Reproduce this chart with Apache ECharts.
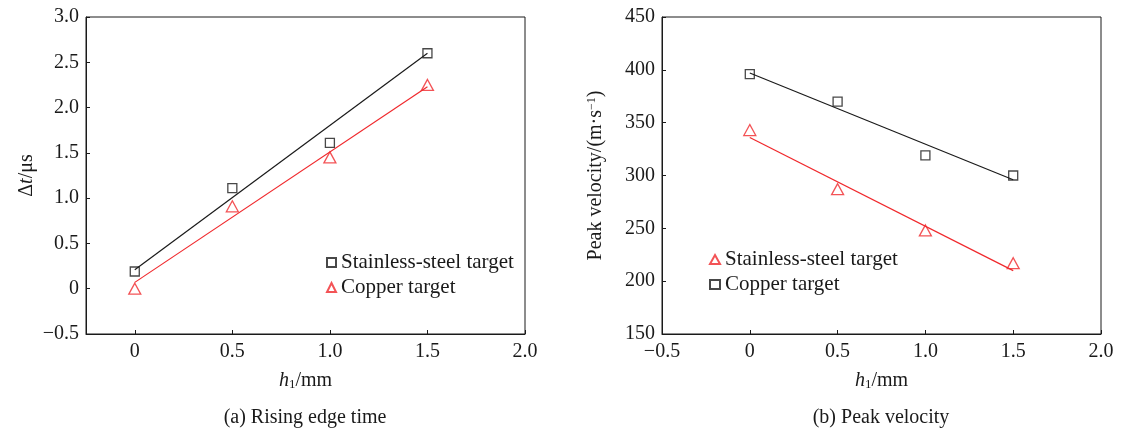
<!DOCTYPE html>
<html>
<head>
<meta charset="utf-8">
<title>Rising edge time / Peak velocity</title>
<script src="https://cdn.jsdelivr.net/npm/echarts@6/dist/echarts.min.js"></script>
<style>
    html, body { margin: 0; padding: 0; background: #fff; }
    #chart { width: 1122px; height: 430px; }
</style>
</head>
<body>
<div id="chart"></div>
<script>
// 数据 (从图上读出来的)
const xValues = [0, 0.5, 1.0, 1.5];
const xTicks = [0, 0.5, 1.0, 1.5, 2.0];

// (a) 上升沿时间
const riseSteel = [0.19, 1.11, 1.61, 2.60];
const riseCopper = [0.0, 0.91, 1.45, 2.25];
const riseSteelFit = [0.21, 2.60];
const riseCopperFit = [0.07, 2.23];

// (b) 峰值速度
const peakSteel = [343, 287, 248, 217];
const peakCopper = [396, 370, 319, 300];
const peakSteelFit = [336, 210];
const peakCopperFit = [397, 296];

const fitX = [0, 1.5];

const FONT = 'Liberation Serif';
const RED = '#f0282c';
const BLACK = '#1a1a1a';

function pairs(xs, ys) {
    return xs.map(function (x, i) { return [x, ys[i]]; });
}

function tickFmt(v) {
    if (Math.abs(v) < 1e-9) return '0';
    return v.toFixed(1).replace('-', '\u2212');
}

function intFmt(v) {
    return String(v);
}

// 图例名字: 右图的系列用别名, 显示时还原
const legendNames = {
    'steel-b': 'Stainless-steel target',
    'copper-b': 'Copper target'
};

function xAxisOf(gridIndex, min) {
    return {
        type: 'value',
        gridIndex: gridIndex,
        min: min,
        max: 2.0,
        name: '{i|h}{sub|1}/mm',
        nameLocation: 'middle',
        nameGap: 36,
        nameTextStyle: {
            color: BLACK,
            fontFamily: FONT,
            fontSize: 20,
            rich: {
                i: { fontFamily: FONT, fontSize: 20, fontStyle: 'italic', color: BLACK },
                sub: { fontFamily: FONT, fontSize: 13, color: BLACK, verticalAlign: 'bottom', padding: [8, 0, 0, 0] }
            }
        },
        axisLine: { show: true, onZero: false, lineStyle: { color: BLACK, width: 1 } },
        axisTick: { show: true, inside: true, length: 4, customValues: xTicks, lineStyle: { color: BLACK } },
        axisLabel: {
            customValues: xTicks.concat(min < 0 && min % 0.5 === 0 ? [min] : []),
            formatter: tickFmt,
            color: BLACK,
            fontFamily: FONT,
            fontSize: 20,
            margin: 8
        },
        splitLine: { show: false }
    };
}

let option = {
    animation: false,
    backgroundColor: '#fff',
    grid: [
        { left: 86, top: 17, width: 439, height: 317, show: true, borderColor: BLACK, borderWidth: 1 },
        { left: 662, top: 17, width: 439, height: 317, show: true, borderColor: BLACK, borderWidth: 1 }
    ],
    xAxis: [
        xAxisOf(0, -0.25),
        xAxisOf(1, -0.5)
    ],
    yAxis: [
        {
            type: 'value',
            gridIndex: 0,
            min: -0.5,
            max: 3.0,
            interval: 0.5,
            name: '{d|\u0394}{i|t}/\u03bcs',
            nameLocation: 'middle',
            nameGap: 49,
            nameTextStyle: {
                color: BLACK,
                fontFamily: FONT,
                fontSize: 20,
                rich: {
                    d: { fontFamily: FONT, fontSize: 20, color: BLACK },
                    i: { fontFamily: FONT, fontSize: 20, fontStyle: 'italic', color: BLACK }
                }
            },
            axisLine: { show: true, onZero: false, lineStyle: { color: BLACK, width: 1 } },
            axisTick: { show: true, inside: true, length: 4, lineStyle: { color: BLACK } },
            axisLabel: { formatter: tickFmt, color: BLACK, fontFamily: FONT, fontSize: 20, margin: 7 },
            splitLine: { show: false }
        },
        {
            type: 'value',
            gridIndex: 1,
            min: 150,
            max: 450,
            interval: 50,
            name: 'Peak velocity/(m\u00b7s{sup|\u22121})',
            nameLocation: 'middle',
            nameGap: 56,
            nameTextStyle: {
                color: BLACK,
                fontFamily: FONT,
                fontSize: 20,
                rich: {
                    sup: { fontFamily: FONT, fontSize: 12, color: BLACK, verticalAlign: 'top', padding: [0, 0, 8, 0] }
                }
            },
            axisLine: { show: true, onZero: false, lineStyle: { color: BLACK, width: 1 } },
            axisTick: { show: true, inside: true, length: 4, lineStyle: { color: BLACK } },
            axisLabel: { formatter: intFmt, color: BLACK, fontFamily: FONT, fontSize: 20, margin: 7 },
            splitLine: { show: false }
        }
    ],
    legend: [
        {
            orient: 'vertical',
            left: 326,
            top: 252,
            padding: 0,
            itemWidth: 9,
            itemHeight: 9,
            itemGap: 4,
            data: ['Stainless-steel target', 'Copper target'],
            textStyle: { color: BLACK, fontFamily: FONT, fontSize: 21 }
        },
        {
            orient: 'vertical',
            left: 709,
            top: 249,
            padding: 0,
            itemWidth: 10,
            itemHeight: 9,
            itemGap: 4,
            data: ['steel-b', 'copper-b'],
            formatter: function (name) { return legendNames[name]; },
            textStyle: { color: BLACK, fontFamily: FONT, fontSize: 21 }
        }
    ],
    graphic: [
        {
            type: 'text', x: 305, y: 418,
            style: { text: '(a) Rising edge time', align: 'center', verticalAlign: 'middle', fill: BLACK, font: '20px "Liberation Serif"' }
        },
        {
            type: 'text', x: 881, y: 418,
            style: { text: '(b) Peak velocity', align: 'center', verticalAlign: 'middle', fill: BLACK, font: '20px "Liberation Serif"' }
        }
    ],
    series: [
        // (a) 拟合线
        {
            type: 'line', xAxisIndex: 0, yAxisIndex: 0, silent: true, showSymbol: false,
            data: pairs(fitX, riseSteelFit), lineStyle: { color: BLACK, width: 1.2 }
        },
        {
            type: 'line', xAxisIndex: 0, yAxisIndex: 0, silent: true, showSymbol: false,
            data: pairs(fitX, riseCopperFit), lineStyle: { color: RED, width: 1.2 }
        },
        // (a) 散点
        {
            name: 'Stainless-steel target', type: 'scatter', xAxisIndex: 0, yAxisIndex: 0,
            symbol: 'rect', symbolSize: 9,
            itemStyle: { color: '#fff', borderColor: BLACK, borderWidth: 1.3 },
            data: pairs(xValues, riseSteel)
        },
        {
            name: 'Copper target', type: 'scatter', xAxisIndex: 0, yAxisIndex: 0,
            symbol: 'triangle', symbolSize: [12, 11],
            itemStyle: { color: '#fff', borderColor: RED, borderWidth: 1.3 },
            data: pairs(xValues, riseCopper)
        },
        // (b) 拟合线
        {
            type: 'line', xAxisIndex: 1, yAxisIndex: 1, silent: true, showSymbol: false,
            data: pairs(fitX, peakCopperFit), lineStyle: { color: BLACK, width: 1.2 }
        },
        {
            type: 'line', xAxisIndex: 1, yAxisIndex: 1, silent: true, showSymbol: false,
            data: pairs(fitX, peakSteelFit), lineStyle: { color: RED, width: 1.2 }
        },
        // (b) 散点
        {
            name: 'steel-b', type: 'scatter', xAxisIndex: 1, yAxisIndex: 1,
            symbol: 'triangle', symbolSize: [12, 11],
            itemStyle: { color: '#fff', borderColor: RED, borderWidth: 1.3 },
            data: pairs(xValues, peakSteel)
        },
        {
            name: 'copper-b', type: 'scatter', xAxisIndex: 1, yAxisIndex: 1,
            symbol: 'rect', symbolSize: 9,
            itemStyle: { color: '#fff', borderColor: BLACK, borderWidth: 1.3 },
            data: pairs(xValues, peakCopper)
        }
    ]
};

let chart = echarts.init(document.getElementById('chart'));
chart.setOption(option);

window.onresize = function () {
    chart.resize();
};
</script>
</body>
</html>
